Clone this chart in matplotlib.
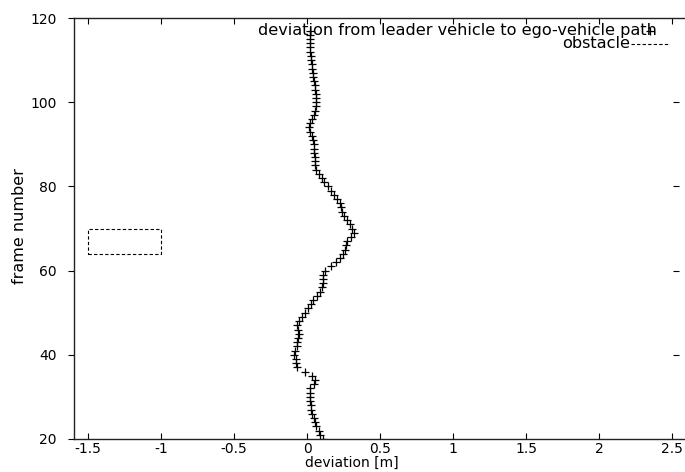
import matplotlib
matplotlib.use("Agg")
import matplotlib.pyplot as plt
from matplotlib.patches import Rectangle
from matplotlib.lines import Line2D

# lateral deviation of the leader vehicle, one value per frame
frames = list(range(20, 118))
deviation = [
    0.105, 0.090, 0.080, 0.062, 0.053, 0.044, 0.036, 0.028, 0.024, 0.019,   # 20-29
    0.016, 0.016, 0.022, 0.048, 0.056, 0.034, -0.018, -0.068, -0.076, -0.080,  # 30-39
    -0.088, -0.082, -0.070, -0.068, -0.060, -0.056, -0.066, -0.068, -0.056, -0.038,  # 40-49
    -0.012, 0.008, 0.026, 0.043, 0.064, 0.088, 0.100, 0.105, 0.105, 0.110,  # 50-59
    0.125, 0.165, 0.195, 0.222, 0.248, 0.256, 0.265, 0.275, 0.298, 0.320,  # 60-69
    0.310, 0.292, 0.275, 0.255, 0.240, 0.233, 0.222, 0.205, 0.185, 0.160,  # 70-79
    0.140, 0.118, 0.100, 0.078, 0.060, 0.053, 0.050, 0.055, 0.048, 0.048,  # 80-89
    0.044, 0.040, 0.030, 0.022, 0.015, 0.020, 0.030, 0.048, 0.055, 0.060,  # 90-99
    0.060, 0.060, 0.060, 0.055, 0.050, 0.044, 0.040, 0.037, 0.034, 0.030,  # 100-109
    0.027, 0.025, 0.022, 0.020, 0.020, 0.020, 0.020, 0.020,  # 110-117
]

# obstacle outline (deviation range, frame range)
obstacle_x = [-1.5, -1.0]
obstacle_y = [64, 70]

xticks = [-1.5, -1, -0.5, 0, 0.5, 1, 1.5, 2, 2.5]
xtick_labels = ["-1.5", "-1", "-0.5", "0", "0.5", "1", "1.5", "2", "2.5"]
yticks = [20, 40, 60, 80, 100, 120]

series_label = "deviation from leader vehicle to ego-vehicle path"
obstacle_label = "obstacle"

W, H = 685, 472
fig = plt.figure(figsize=(W / 100, H / 100), dpi=100)
plt.rcParams["font.family"] = ["DejaVu Sans"]
fs = 10
key_fs = 11.6

left, right, top, bottom = 73.5, 687.0, 18.0, 439.0
ax = fig.add_axes([left / W, 1 - bottom / H, (right - left) / W, (bottom - top) / H])

ax.plot(deviation, frames, linestyle="none", marker="+", color="black",
        markersize=6, markeredgewidth=0.9)

ox0, ox1 = obstacle_x
oy0, oy1 = obstacle_y
ax.add_patch(Rectangle((ox0, oy0), ox1 - ox0, oy1 - oy0, fill=False,
                       edgecolor="black", linewidth=0.8, linestyle=(0, (3, 2))))

ax.set_xlim(-1.6, 2.6)
ax.set_ylim(20, 120)
ax.set_xticks(xticks)
ax.set_xticklabels(xtick_labels)
ax.set_yticks(yticks)

for s in ax.spines.values():
    s.set_linewidth(1.0)
    s.set_color("#222222")

ax.tick_params(axis="x", direction="in", top=True, length=4, width=0.8,
               labelsize=fs, pad=2)
ax.tick_params(axis="y", direction="out", length=4, width=0.8,
               labelsize=fs, pad=8)

# mirrored tick dashes near the right border
tr = ax.get_yaxis_transform()
ax.plot([0.982] * len(yticks[1:-1]), yticks[1:-1], linestyle="none",
        marker="_", markersize=5, markeredgewidth=0.8, color="black",
        transform=tr, clip_on=False)

fig.text(20 / W, 1 - 226 / H, "frame number", rotation=90, ha="center",
         va="center", fontsize=11.5)
fig.text(352 / W, 1 - 463 / H, "deviation [m]", ha="center", va="center",
         fontsize=fs)

# key
fig.text(258 / W, 1 - 30 / H, series_label, ha="left", va="center", fontsize=key_fs)
fig.text(630 / W, 1 - 44 / H, obstacle_label, ha="right", va="center", fontsize=key_fs)
fig.add_artist(Line2D([650 / W], [1 - 31 / H], marker="+", color="black",
                      markersize=6, markeredgewidth=0.9, linestyle="none"))
fig.add_artist(Line2D([631 / W, 670 / W], [1 - 44 / H, 1 - 44 / H],
                      color="black", linewidth=0.8, linestyle=(0, (3, 2))))

fig.savefig("out.png", dpi=100)
